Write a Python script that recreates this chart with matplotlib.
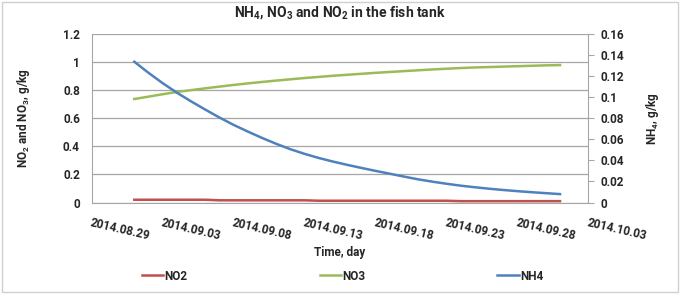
import pandas as pd
import matplotlib
matplotlib.use('Agg')
import matplotlib.pyplot as plt
import matplotlib.dates as mdates
from matplotlib.ticker import FuncFormatter, MultipleLocator
from matplotlib.patches import Rectangle

plt.rcParams['font.family'] = ['Roboto', 'DejaVu Sans']
plt.rcParams['font.weight'] = 'bold'
plt.rcParams['mathtext.fontset'] = 'custom'
plt.rcParams['mathtext.rm'] = 'Roboto:bold'
plt.rcParams['mathtext.bf'] = 'Roboto:bold'
plt.rcParams['mathtext.default'] = 'bf'

# daily samples, 2014.09.01 - 2014.10.01
days = pd.date_range('2014-09-01', periods=31, freq='D')

no2 = [0.020, 0.020, 0.020, 0.020, 0.020, 0.020, 0.016, 0.016, 0.016, 0.016,
       0.016, 0.016, 0.016, 0.013, 0.013, 0.013, 0.013, 0.013, 0.013, 0.013,
       0.013, 0.013, 0.013, 0.010, 0.010, 0.010, 0.010, 0.010, 0.010, 0.010,
       0.010]
no3 = [0.735, 0.752, 0.769, 0.785, 0.798, 0.811, 0.823, 0.835, 0.846, 0.856,
       0.866, 0.875, 0.884, 0.892, 0.900, 0.907, 0.914, 0.921, 0.927, 0.933,
       0.939, 0.945, 0.950, 0.955, 0.959, 0.962, 0.965, 0.968, 0.971, 0.974,
       0.976]
nh4 = [0.1333, 0.1228, 0.1130, 0.1040, 0.0958, 0.0880, 0.0805, 0.0735, 0.0672, 0.0612,
       0.0556, 0.0505, 0.0461, 0.0422, 0.0388, 0.0357, 0.0328, 0.0300, 0.0273, 0.0246,
       0.0220, 0.0198, 0.0178, 0.0160, 0.0145, 0.0131, 0.0119, 0.0108, 0.0098,
       0.0089, 0.0080]

grey = '#a6a6a6'
txt = '#262626'

fig = plt.figure(figsize=(6.81, 2.94), dpi=100)
ax = fig.add_axes([0.1347, 0.311, 0.7293, 0.575])
ax2 = ax.twinx()

l1, = ax.plot(days, no2, color='#C0504D', lw=1.8, label='NO2')
l2, = ax.plot(days, no3, color='#9BBB59', lw=1.8, label='NO3')
l3, = ax2.plot(days, nh4, color='#4F81BD', lw=1.8, label='NH4')

ax.set_ylim(0, 1.2)
ax2.set_ylim(0, 0.16)
ax.yaxis.set_major_locator(MultipleLocator(0.2))
ax2.yaxis.set_major_locator(MultipleLocator(0.02))
fmt = FuncFormatter(lambda v, p: '%g' % round(v, 3))
ax.yaxis.set_major_formatter(fmt)
ax2.yaxis.set_major_formatter(fmt)

ax.set_xlim(pd.Timestamp('2014-08-29'), pd.Timestamp('2014-10-03'))
ticks = pd.date_range('2014-08-29', '2014-10-03', freq='5D')
ax.set_xticks(ticks)
ax.xaxis.set_major_formatter(mdates.DateFormatter('%Y.%m.%d'))
for lab in ax.get_xticklabels():
    lab.set_rotation(-13)
    lab.set_ha('left')
    lab.set_rotation_mode('anchor')
for lab in ax.get_xticklabels() + ax.get_yticklabels() + ax2.get_yticklabels():
    lab.set_fontweight('bold')

ax.grid(axis='y', color=grey, lw=0.9)
ax.set_axisbelow(True)
for a in (ax, ax2):
    for s in a.spines.values():
        s.set_visible(False)
ax.spines['left'].set_visible(True)
ax.spines['left'].set_color(grey)
ax.spines['bottom'].set_visible(True)
ax.spines['bottom'].set_color(grey)
ax2.spines['right'].set_visible(True)
ax2.spines['right'].set_color(grey)

ax.tick_params(axis='x', length=0, pad=10, labelsize=8.5, labelcolor=txt)
ax.tick_params(axis='y', length=0, pad=8.5, labelsize=8.5, labelcolor=txt)
ax2.tick_params(axis='y', length=4, color=grey, pad=5, labelsize=8.5, labelcolor=txt)

ax.set_xlabel('Time, day', fontsize=8.5, color=txt, labelpad=2, fontweight='bold')
ax.set_ylabel('NO$_2$ and NO$_3$, g/kg', fontsize=8.5, color=txt, labelpad=22, fontweight='bold')
ax2.set_ylabel('NH$_4$, g/kg', fontsize=8.5, color=txt, labelpad=14, fontweight='bold')
ax.set_title('NH$_4$, NO$_3$ and NO$_2$ in the fish tank', fontsize=10, color=txt, pad=12,
             fontweight='bold')

fig.legend(handles=[l1, l2, l3], loc='center', bbox_to_anchor=(0.503, 1 - 276 / 294),
           ncol=3, frameon=False, handlelength=1.8, handletextpad=0.1,
           columnspacing=11.2, labelcolor=txt, prop={'size': 8.5, 'weight': 'bold'})

fig.patches.append(Rectangle((0.003, 0.006), 0.992, 0.988, transform=fig.transFigure,
                             fill=False, edgecolor='#d0d0d0', lw=1))

fig.savefig('out.png', dpi=100)
